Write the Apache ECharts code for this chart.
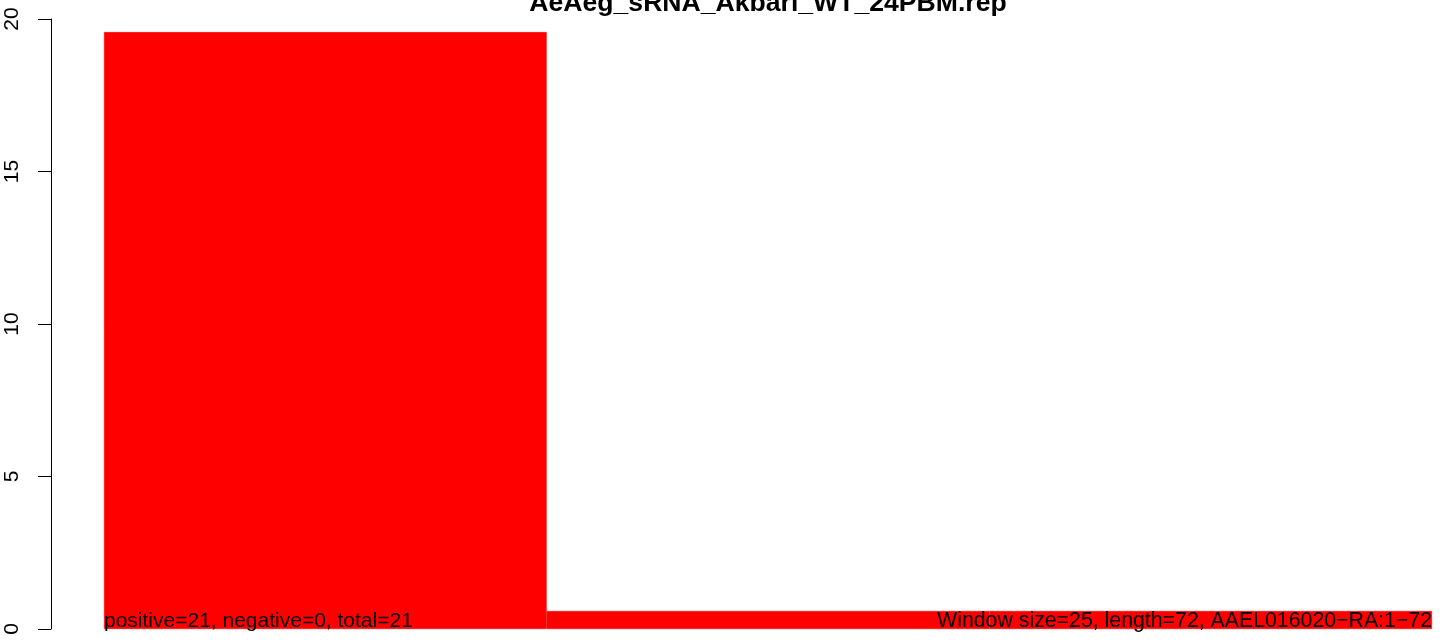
<!DOCTYPE html>
<html>
<head>
<meta charset="utf-8">
<style>
  html, body { margin: 0; padding: 0; background: #fff; }
  #main { width: 1444px; height: 641px; }
</style>
<script src="https://cdn.jsdelivr.net/npm/echarts@6/dist/echarts.min.js"></script>
</head>
<body>
<div id="main"></div>
<script>
const titleText = 'AeAeg_sRNA_Akbari_WT_24PBM.rep';
const windows = ['1-25', '26-50', '51-72'];
const readCounts = [19.57, 0.59, 0.59];
const yTicks = [0, 20, 5];
const footLeft = 'positive=21, negative=0, total=21';
const footRight = 'Window size=25, length=72, AAEL016020\u2212RA:1\u221272';

const font = 'Liberation Sans, Arial, Helvetica, sans-serif';

const option = {
  animation: false,
  title: {
    text: titleText,
    left: 763,
    top: -15,
    textAlign: 'center',
    textStyle: {
      fontFamily: font,
      fontSize: 26.6,
      fontWeight: 'bold',
      color: '#000'
    }
  },
  grid: {
    left: 104,
    right: 12,
    top: 19,
    bottom: 12
  },
  xAxis: {
    type: 'category',
    data: windows,
    show: false
  },
  yAxis: {
    type: 'value',
    min: yTicks[0],
    max: yTicks[1],
    interval: yTicks[2],
    offset: 53,
    axisLine: { show: true, lineStyle: { color: '#000', width: 1 } },
    axisTick: { show: true, length: 13, lineStyle: { color: '#000', width: 1 } },
    axisLabel: {
      rotate: 90,
      margin: 28,
      fontFamily: font,
      fontSize: 21,
      color: '#000'
    },
    splitLine: { show: false }
  },
  series: [
    {
      type: 'bar',
      data: readCounts,
      barCategoryGap: '0%',
      itemStyle: { color: '#FF0000', borderColor: '#FF0000', borderWidth: 0.5 }
    }
  ],
  graphic: [
    {
      type: 'text',
      left: 104,
      bottom: 9,
      z: 100,
      style: { text: footLeft, font: '21px ' + font, fill: '#000' }
    },
    {
      type: 'text',
      right: 12,
      bottom: 9,
      z: 100,
      style: { text: footRight, font: '21.3px ' + font, fill: '#000' }
    }
  ]
};

const myChart = echarts.init(document.getElementById('main'));
myChart.setOption(option);
</script>
</body>
</html>
